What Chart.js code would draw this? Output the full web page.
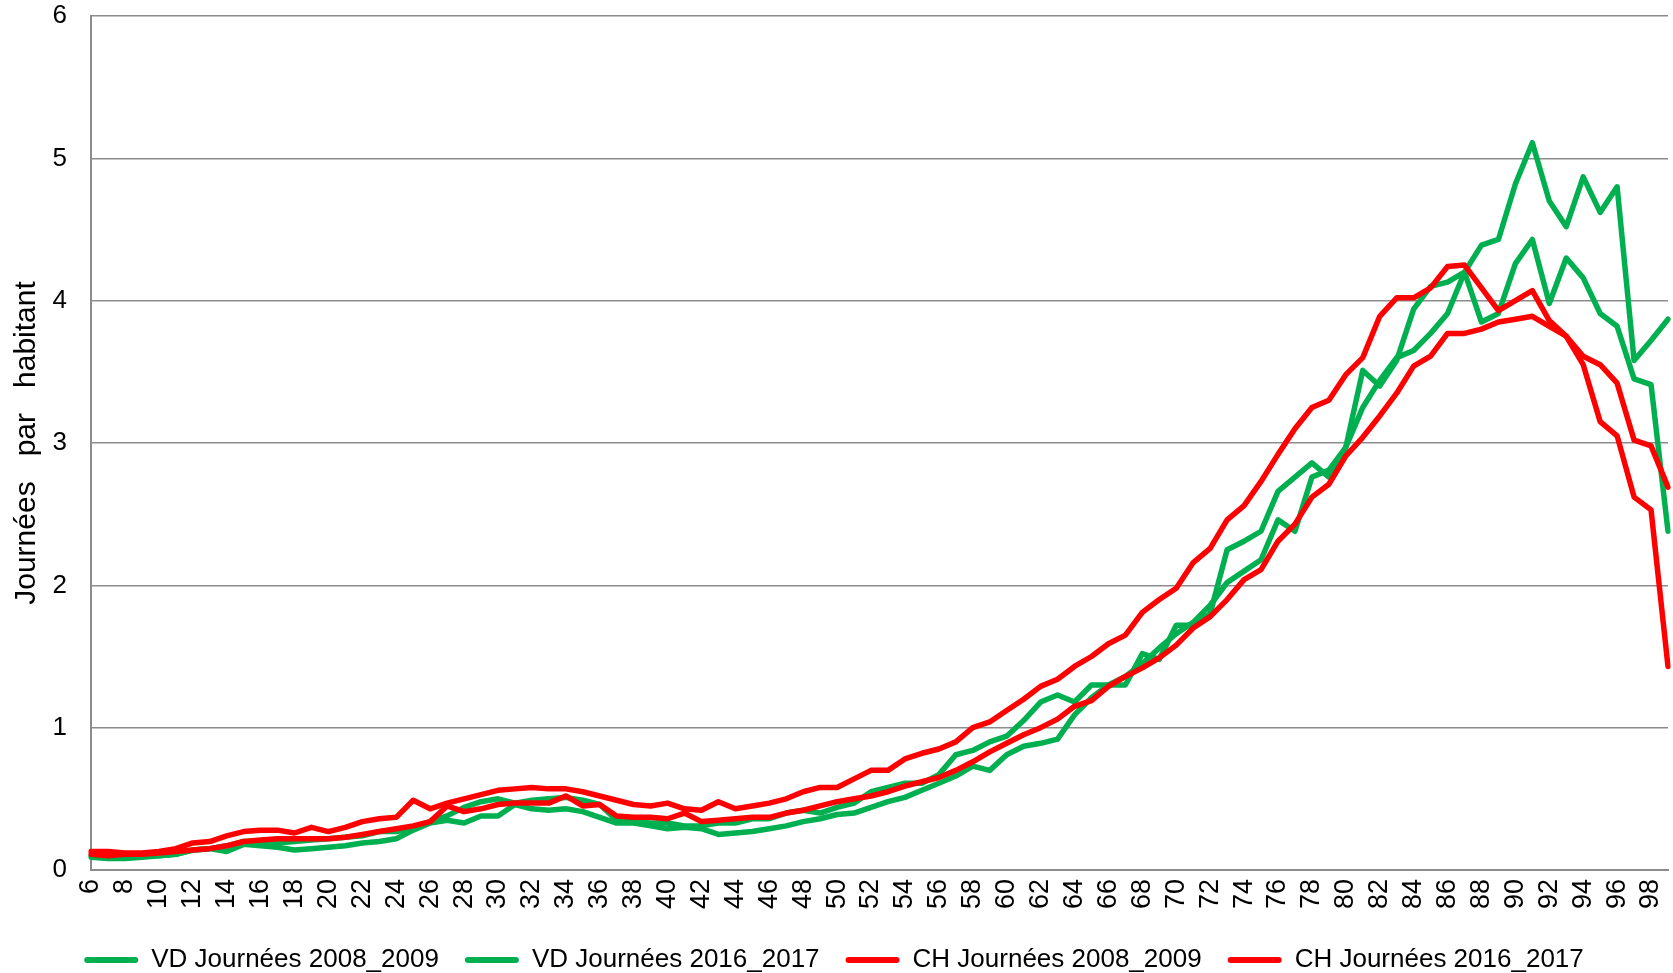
<!DOCTYPE html>
<html>
<head>
<meta charset="utf-8">
<script src="https://cdn.jsdelivr.net/npm/chart.js@4.4.1/dist/chart.umd.min.js"></script>
<style>
  html, body { margin: 0; padding: 0; background: #fff; }
  #chart { display: block; }
</style>
</head>
<body>
<canvas id="chart" width="1673" height="973"></canvas>
<script>
const ages = [
  6, 7, 8, 9, 10, 11, 12, 13, 14, 15, 16, 17, 18, 19, 20, 21, 22, 23, 24, 25,
  26, 27, 28, 29, 30, 31, 32, 33, 34, 35, 36, 37, 38, 39, 40, 41, 42, 43, 44, 45,
  46, 47, 48, 49, 50, 51, 52, 53, 54, 55, 56, 57, 58, 59, 60, 61, 62, 63, 64, 65,
  66, 67, 68, 69, 70, 71, 72, 73, 74, 75, 76, 77, 78, 79, 80, 81, 82, 83, 84, 85,
  86, 87, 88, 89, 90, 91, 92, 93, 94, 95, 96, 97, 98, 99
];

// VD 2008_2009
const vd0809 = [
  0.10, 0.09, 0.09, 0.10, 0.10, 0.11, 0.14, 0.15, 0.17, 0.20, 0.20, 0.19, 0.20, 0.21, 0.22, 0.23, 0.24, 0.27, 0.27, 0.29,
  0.34, 0.38, 0.44, 0.48, 0.50, 0.47, 0.49, 0.50, 0.51, 0.49, 0.46, 0.35, 0.34, 0.33, 0.33, 0.31, 0.31, 0.33, 0.33, 0.36,
  0.36, 0.40, 0.42, 0.40, 0.44, 0.47, 0.55, 0.58, 0.61, 0.61, 0.67, 0.81, 0.84, 0.90, 0.94, 1.05, 1.18, 1.23, 1.18, 1.30,
  1.30, 1.30, 1.52, 1.48, 1.72, 1.72, 1.80, 2.25, 2.31, 2.38, 2.66, 2.76, 2.86, 2.76, 2.97, 3.25, 3.44, 3.60, 3.65, 3.77,
  3.91, 4.20, 3.85, 3.91, 4.26, 4.43, 3.98, 4.30, 4.16, 3.91, 3.82, 3.45, 3.41, 2.38
];

// VD 2016_2017
const vd1617 = [
  0.09, 0.08, 0.08, 0.09, 0.10, 0.11, 0.14, 0.15, 0.13, 0.18, 0.17, 0.16, 0.14, 0.15, 0.16, 0.17, 0.19, 0.20, 0.22, 0.28,
  0.33, 0.35, 0.33, 0.38, 0.38, 0.46, 0.43, 0.42, 0.43, 0.41, 0.37, 0.33, 0.33, 0.31, 0.29, 0.30, 0.29, 0.25, 0.26, 0.27,
  0.29, 0.31, 0.34, 0.36, 0.39, 0.40, 0.44, 0.48, 0.51, 0.56, 0.61, 0.66, 0.73, 0.70, 0.81, 0.87, 0.89, 0.92, 1.09, 1.21,
  1.30, 1.36, 1.45, 1.56, 1.66, 1.74, 1.86, 2.02, 2.10, 2.18, 2.46, 2.38, 2.76, 2.81, 2.97, 3.51, 3.40, 3.58, 3.94, 4.10,
  4.13, 4.20, 4.39, 4.43, 4.82, 5.11, 4.70, 4.52, 4.87, 4.62, 4.80, 3.58, 3.72, 3.87
];

// CH 2008_2009
const ch0809 = [
  0.13, 0.13, 0.12, 0.12, 0.13, 0.15, 0.19, 0.20, 0.24, 0.27, 0.28, 0.28, 0.26, 0.30, 0.27, 0.30, 0.34, 0.36, 0.37, 0.49,
  0.43, 0.47, 0.50, 0.53, 0.56, 0.57, 0.58, 0.57, 0.57, 0.55, 0.52, 0.49, 0.46, 0.45, 0.47, 0.43, 0.42, 0.48, 0.43, 0.45,
  0.47, 0.50, 0.55, 0.58, 0.58, 0.64, 0.70, 0.70, 0.78, 0.82, 0.85, 0.90, 1.00, 1.04, 1.12, 1.20, 1.29, 1.34, 1.43, 1.50,
  1.59, 1.65, 1.81, 1.90, 1.98, 2.16, 2.26, 2.46, 2.56, 2.73, 2.92, 3.10, 3.25, 3.30, 3.48, 3.60, 3.89, 4.02, 4.02, 4.09,
  4.24, 4.25, 4.09, 3.93, 4.00, 4.07, 3.86, 3.75, 3.55, 3.15, 3.05, 2.62, 2.53, 1.43
];

// CH 2016_2017
const ch1617 = [
  0.11, 0.10, 0.11, 0.11, 0.12, 0.13, 0.14, 0.15, 0.17, 0.20, 0.21, 0.22, 0.22, 0.22, 0.22, 0.23, 0.25, 0.27, 0.29, 0.31,
  0.34, 0.45, 0.41, 0.43, 0.46, 0.47, 0.47, 0.47, 0.52, 0.45, 0.46, 0.38, 0.37, 0.37, 0.36, 0.40, 0.34, 0.35, 0.36, 0.37,
  0.37, 0.40, 0.42, 0.45, 0.48, 0.50, 0.52, 0.55, 0.59, 0.62, 0.65, 0.70, 0.76, 0.83, 0.89, 0.95, 1.00, 1.06, 1.15, 1.19,
  1.29, 1.36, 1.42, 1.49, 1.58, 1.70, 1.78, 1.90, 2.04, 2.11, 2.31, 2.43, 2.62, 2.71, 2.91, 3.04, 3.19, 3.35, 3.54, 3.61,
  3.77, 3.77, 3.80, 3.85, 3.87, 3.89, 3.82, 3.75, 3.61, 3.55, 3.42, 3.02, 2.98, 2.69
];

const GREEN = '#00b050';
const RED = '#ff0000';
const GRID = '#8c8c8c';
const FONT = 'Liberation Sans, Arial, sans-serif';

function series(label, data, color, order) {
  return {
    label,
    data,
    borderColor: color,
    backgroundColor: color,
    borderWidth: 5.5,
    pointRadius: 0,
    tension: 0,
    borderJoinStyle: 'round',
    borderCapStyle: 'round',
    order,
  };
}

new Chart(document.getElementById('chart'), {
  type: 'line',
  data: {
    labels: ages,
    datasets: [
      series('VD Journées 2008_2009', vd0809, GREEN, 2),
      series('VD Journées 2016_2017', vd1617, GREEN, 2),
      series('CH Journées 2008_2009', ch0809, RED, 1),
      series('CH Journées 2016_2017', ch1617, RED, 1),
    ],
  },
  options: {
    responsive: false,
    animation: false,
    layout: { padding: { top: 16, right: 5, left: 0, bottom: -10 } },
    plugins: {
      tooltip: { enabled: false },
      legend: {
        position: 'bottom',
        labels: {
          font: { family: FONT, size: 26 },
          color: '#000',
          boxWidth: 54,
          boxHeight: 6,
          padding: 26,
          generateLabels(chart) {
            return Chart.defaults.plugins.legend.labels.generateLabels(chart)
              .map((it) => ({ ...it, lineWidth: 0, borderRadius: 3 }))
              .sort((a, b) => a.datasetIndex - b.datasetIndex);
          },
        },
      },
    },
    scales: {
      x: {
        offset: false,
        grid: { display: false, drawTicks: false },
        border: { color: GRID, width: 2 },
        ticks: {
          autoSkip: false,
          maxRotation: 90,
          minRotation: 90,
          padding: 9,
          color: '#000',
          font: { family: FONT, size: 27 },
          callback(v, i) {
            return ages[i] % 2 === 0 ? String(ages[i]) : '';
          },
        },
        afterFit(s) {
          s.height = 51;
          s.paddingLeft = 0;
          s.paddingRight = 0;
        },
      },
      y: {
        min: 0,
        max: 6,
        grid: { color: GRID, lineWidth: 1.5, drawTicks: false },
        border: { color: GRID, width: 2 },
        ticks: {
          stepSize: 1,
          padding: 24,
          color: '#000',
          font: { family: FONT, size: 26 },
        },
        title: {
          display: true,
          text: 'Journées   par   habitant',
          color: '#000',
          font: { family: FONT, size: 30 },
          padding: { top: 9, bottom: 0 },
        },
        afterFit(s) {
          s.width = 91;
          s.paddingTop = 0;
          s.paddingBottom = 0;
        },
      },
    },
  },
});
</script>
</body>
</html>
